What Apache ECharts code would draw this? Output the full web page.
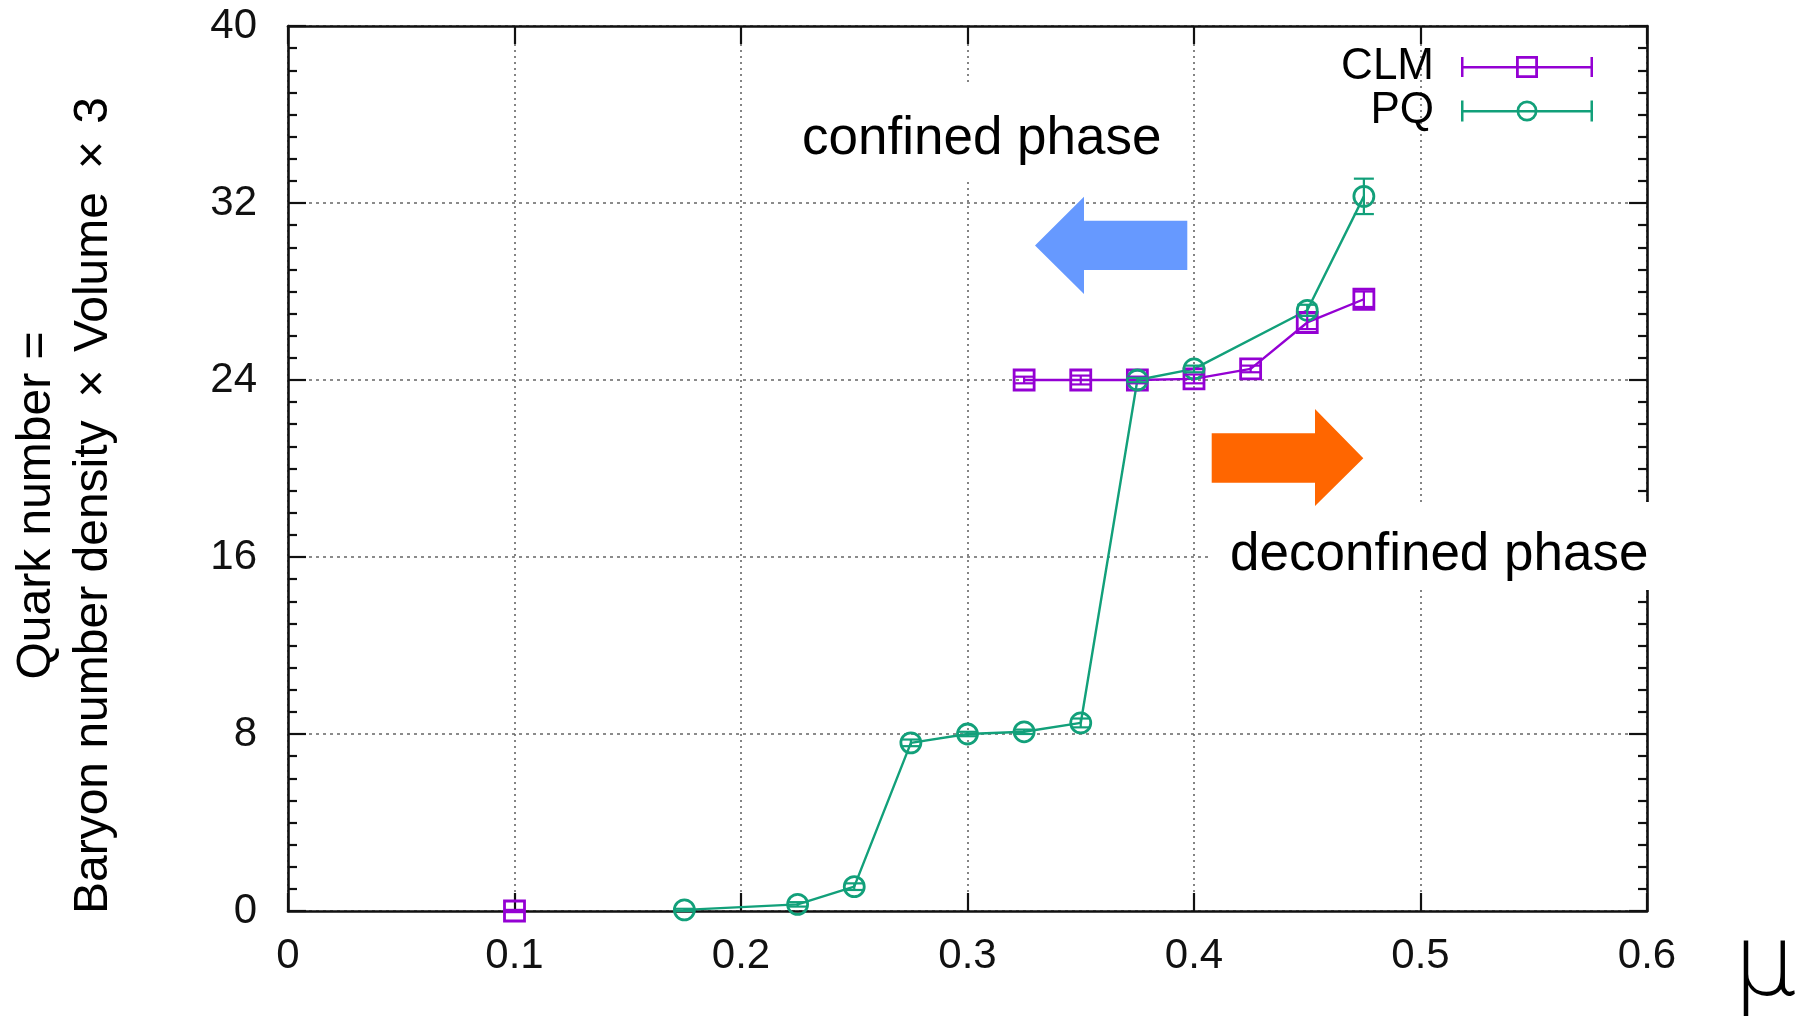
<!DOCTYPE html>
<html><head><meta charset="utf-8">
<script src="https://cdn.jsdelivr.net/npm/echarts@6/dist/echarts.min.js"></script>
<style>html,body{margin:0;padding:0;background:#fff}#c{width:1808px;height:1016px}</style>
</head><body><div id="c"></div>
<script>
// ---- data ----
// null marks a break in the connecting line (the 0.1 CLM point stands alone)
const clmMu  = [0.1, null, 0.325, 0.35, 0.375, 0.4, 0.425, 0.45, 0.475];
const clmN   = [0.0, null, 24.0, 24.0, 24.0, 24.05, 24.5, 26.6, 27.65];
const clmErr = [0.05, null, 0.15, 0.2, 0.15, 0.2, 0.15, 0.3, 0.35];

const pqMu  = [0.175, 0.225, 0.25, 0.275, 0.3, 0.325, 0.35, 0.375, 0.4, 0.45, 0.475];
const pqN   = [0.05, 0.3, 1.1, 7.6, 8.0, 8.1, 8.5, 24.0, 24.5, 27.15, 32.3];
const pqErr = [0.05, 0.1, 0.15, 0.15, 0.1, 0.1, 0.2, 0.1, 0.15, 0.25, 0.8];

const xTickLabels = ['0', '0.1', '0.2', '0.3', '0.4', '0.5', '0.6'];
const yTickLabels = ['0', '8', '16', '24', '32', '40'];
const seriesNames = ['CLM', 'PQ'];

// ---- styling ----
const PURPLE = '#9400D3';
const GREEN = '#12A07A';
const FONT = "'Liberation Sans', Arial, Helvetica, sans-serif";
const AX = '#111';

const clmIcon = 'path://M0 10H132V12.5H0Z M0 1H2.5V21H0Z M129.5 1H132V21H129.5Z M55 0H77V22H55Z M57.8 2.8V19.2H74.2V2.8Z';
const pqIcon = 'path://M0 10H132V12.5H0Z M0 0.5H2.5V21.5H0Z M129.5 0.5H132V21.5H129.5Z M55.5 11A10.5 10.5 0 1 1 76.5 11A10.5 10.5 0 1 1 55.5 11Z M58.2 11A7.8 7.8 0 1 0 73.8 11A7.8 7.8 0 1 0 58.2 11Z';

function pairs(xs, ys) {
  return xs.map((x, i) => (x === null || ys[i] === null) ? [null, null] : [x, ys[i]]);
}

function errSeries(name, xs, ys, es, color) {
  const d = [];
  xs.forEach((x, i) => { if (x !== null && ys[i] !== null) d.push([x, ys[i], es[i]]); });
  return {
    type: 'custom', name: name, silent: true, z: 4,
    coordinateSystem: 'cartesian2d',
    data: d,
    encode: { x: 0, y: 1 },
    renderItem: function (params, api) {
      const x = api.value(0), y = api.value(1), e = api.value(2);
      const lo = api.coord([x, y - e]), hi = api.coord([x, y + e]);
      const w = 10;
      const st = { stroke: color, lineWidth: 2.2 };
      return { type: 'group', children: [
        { type: 'line', shape: { x1: lo[0], y1: lo[1], x2: hi[0], y2: hi[1] }, style: st },
        { type: 'line', shape: { x1: lo[0] - w, y1: lo[1], x2: lo[0] + w, y2: lo[1] }, style: st },
        { type: 'line', shape: { x1: hi[0] - w, y1: hi[1], x2: hi[0] + w, y2: hi[1] }, style: st }
      ]};
    }
  };
}

function lineSeries(name, xs, ys, color, symbol) {
  return {
    type: 'line', name: name, silent: true, z: 3,
    data: pairs(xs, ys), connectNulls: false,
    symbol: symbol, symbolSize: 20, showAllSymbol: true,
    lineStyle: { color: color, width: 2.4 },
    itemStyle: { color: 'rgba(0,0,0,0)', borderColor: color, borderWidth: 2.8 },
    emphasis: { disabled: true }
  };
}

const frameLine = { show: true, onZero: false, lineStyle: { color: AX, width: 2.6 } };
const majorTick = { show: true, inside: true, length: 18, lineStyle: { color: AX, width: 2.2 } };
const minorTickY = { show: true, splitNumber: 8, length: 9, lineStyle: { color: AX, width: 2.2 } };

const chart = echarts.init(document.getElementById('c'));
chart.setOption({
  animation: false,
  backgroundColor: '#fff',
  textStyle: { fontFamily: FONT },
  grid: { left: 285, right: 161, top: 26, bottom: 105, containLabel: false },
  legend: {
    orient: 'vertical', right: 210, top: 40, align: 'right',
    itemWidth: 132, itemHeight: 22, itemGap: 0, selectedMode: false,
    textStyle: { fontSize: 44, color: '#000', lineHeight: 43, padding: [0, 22, 0, 0], fontFamily: FONT },
    itemStyle: { borderWidth: 0 },
    data: [
      { name: seriesNames[0], icon: clmIcon, itemStyle: { color: PURPLE, borderWidth: 0 } },
      { name: seriesNames[1], icon: pqIcon, itemStyle: { color: GREEN, borderWidth: 0 } }
    ]
  },
  xAxis: [
    {
      type: 'value', min: 0, max: 0.6, interval: 0.1, position: 'bottom',
      axisLine: frameLine, axisTick: majorTick,
      axisLabel: { fontSize: 42, color: AX, margin: 24, fontFamily: FONT,
        formatter: v => xTickLabels[Math.round(v / 0.1)] },
      splitLine: { show: true, lineStyle: { type: [2, 4], color: '#666', width: 1.6 } }
    },
    {
      type: 'value', min: 0, max: 0.6, interval: 0.1, position: 'top',
      axisLine: frameLine, axisTick: majorTick,
      axisLabel: { show: false }, splitLine: { show: false }
    }
  ],
  yAxis: [
    {
      type: 'value', min: 0, max: 40, interval: 8, position: 'left',
      axisLine: frameLine, axisTick: majorTick, minorTick: minorTickY,
      axisLabel: { fontSize: 42, color: AX, margin: 31, fontFamily: FONT,
        formatter: v => yTickLabels[Math.round(v / 8)] },
      splitLine: { show: true, lineStyle: { type: [3, 4], color: '#666', width: 1.6 } },
      name: 'Quark number =\nBaryon number density\u2009 ×\u200A Volume\u2009 ×\u200A 3',
      nameLocation: 'middle', nameRotate: 90, nameGap: 166,
      nameTextStyle: { fontSize: 48, lineHeight: 57, color: '#000', align: 'center', padding: [0, 74, 0, 0], fontFamily: FONT }
    },
    {
      type: 'value', min: 0, max: 40, interval: 8, position: 'right',
      axisLine: frameLine, axisTick: majorTick, minorTick: minorTickY,
      axisLabel: { show: false }, splitLine: { show: false }
    }
  ],
  series: [
    lineSeries(seriesNames[0], clmMu, clmN, PURPLE, 'rect'),
    errSeries('CLM error', clmMu, clmN, clmErr, PURPLE),
    lineSeries(seriesNames[1], pqMu, pqN, GREEN, 'circle'),
    errSeries('PQ error', pqMu, pqN, pqErr, GREEN)
  ],
  graphic: [
    { type: 'rect', z: 100, shape: { x: 782, y: 85, width: 398, height: 93 }, style: { fill: '#fff' } },
    { type: 'text', z: 101, x: 802, y: 139.6,
      style: { text: 'confined phase', fontSize: 53, fontFamily: FONT, fill: '#000', align: 'left', verticalAlign: 'middle', textAlign: 'left', textVerticalAlign: 'middle' } },
    { type: 'rect', z: 100, shape: { x: 1210, y: 502, width: 455, height: 88 }, style: { fill: '#fff' } },
    { type: 'text', z: 101, x: 1230, y: 555,
      style: { text: 'deconfined phase', fontSize: 53, fontFamily: FONT, fill: '#000', align: 'left', verticalAlign: 'middle', textAlign: 'left', textVerticalAlign: 'middle' } },
    { type: 'polygon', z: 102, shape: { points: [[1035, 245.5], [1084, 196.7], [1084, 220.7], [1187.3, 220.7], [1187.3, 270], [1084, 270], [1084, 294]] }, style: { fill: '#6699FF' } },
    { type: 'polygon', z: 102, shape: { points: [[1211.7, 433.3], [1315, 433.3], [1315, 409], [1363.3, 458.3], [1315, 506], [1315, 482.7], [1211.7, 482.7]] }, style: { fill: '#FF6600' } },
    { type: 'text', z: 101, x: 1733, y: 969,
      style: { text: 'μ', fontSize: 100, fontFamily: "'DejaVu Sans', sans-serif", fontWeight: 200, fill: '#000', align: 'left', verticalAlign: 'middle', textAlign: 'left', textVerticalAlign: 'middle' } }
  ]
});
</script>
</body></html>
